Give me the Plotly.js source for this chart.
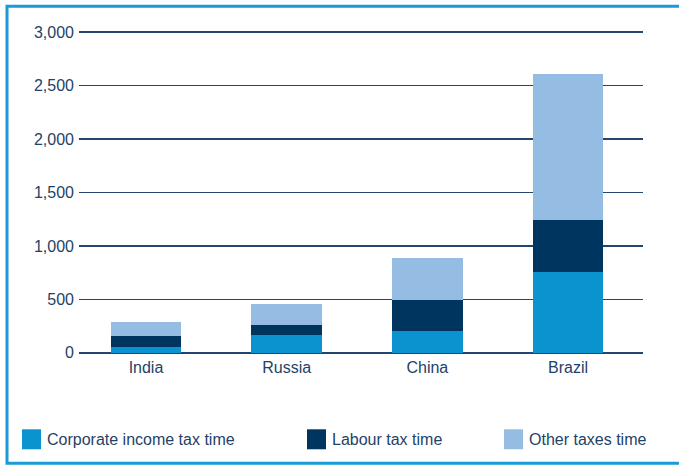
<!DOCTYPE html>
<html>
<head>
<meta charset="utf-8">
<script src="https://cdn.plot.ly/plotly-3.0.1.min.js"></script>
<style>html,body{margin:0;padding:0;background:#fff;}#chart{width:679px;height:465px;}</style>
</head>
<body>
<div id="chart"></div>
<script>
const countries = ["India", "Russia", "China", "Brazil"];
const corporateTax = [56, 168, 201, 758];
const labourTax = [105, 93, 293, 483];
const otherTaxes = [125, 193, 392, 1364];
const seriesNames = ["Corporate income tax time", "Labour tax time", "Other taxes time"];
const seriesColors = ["#0a93cf", "#00355f", "#95bde3"];
const yTicks = [0, 500, 1000, 1500, 2000, 2500, 3000];
const yTickText = ["0", "500", "1,000", "1,500", "2,000", "2,500", "3,000"];

const seriesValues = [corporateTax, labourTax, otherTaxes];
const traces = seriesValues.map((vals, i) => ({
  type: "bar",
  x: countries,
  y: vals,
  name: seriesNames[i],
  marker: {color: seriesColors[i], line: {width: 0}},
  showlegend: false,
  hoverinfo: "x+y+name"
}));

const font = {family: "Liberation Sans, Arial, sans-serif", size: 16, color: "#1f4268"};

// 0 -> y=353px, 3000 -> y=32px ; pad the range so edge gridlines are drawn
const pad = 20;
const pxPerUnit = 321 / 3000;
const L = 79, W = 564;
const T = 32 - pad * pxPerUnit;
const H = (3000 + 2 * pad) * pxPerUnit;
const px2x = p => (p - L) / W;
const px2y = p => (T + H - p) / H;

// manual legend (larger square swatches as in the reference)
const legendX = [22, 307, 504];
const shapes = [{
  type: "rect", xref: "paper", yref: "paper",
  x0: px2x(7), x1: px2x(700), y0: px2y(463.5), y1: px2y(6),
  line: {color: "#1a9ad6", width: 3}, fillcolor: "rgba(0,0,0,0)", layer: "below"
}];
const annotations = [];
seriesNames.forEach((n, i) => {
  const px = legendX[i];
  shapes.push({
    type: "rect", xref: "paper", yref: "paper",
    x0: px2x(px), x1: px2x(px + 19),
    y0: px2y(449.5), y1: px2y(429.5),
    line: {width: 0}, fillcolor: seriesColors[i]
  });
  annotations.push({
    xref: "paper", yref: "paper", x: px2x(px + 23), y: px2y(439.5),
    xanchor: "left", yanchor: "middle", showarrow: false,
    text: n, font: font
  });
});

const layout = {
  width: 679, height: 465,
  margin: {l: L, r: 679 - L - W, t: T, b: 465 - T - H},
  paper_bgcolor: "#ffffff", plot_bgcolor: "#ffffff",
  barmode: "stack", bargap: 0.5,
  font: font,
  showlegend: false,
  xaxis: {
    type: "category", showgrid: false, showline: false, zeroline: false,
    range: [-0.476, 3.533],
    ticks: "", tickfont: font, ticklabelstandoff: 1, fixedrange: true
  },
  yaxis: {
    range: [-pad, 3000 + pad], tickvals: yTicks, ticktext: yTickText,
    showgrid: true, gridcolor: "#24466c", gridwidth: 1.3,
    zeroline: false, showline: false, ticks: "", tickfont: font,
    ticklabelstandoff: 4, fixedrange: true
  },
  shapes: shapes,
  annotations: annotations
};

Plotly.newPlot("chart", traces, layout, {displayModeBar: false, staticPlot: true});
</script>
</body>
</html>
